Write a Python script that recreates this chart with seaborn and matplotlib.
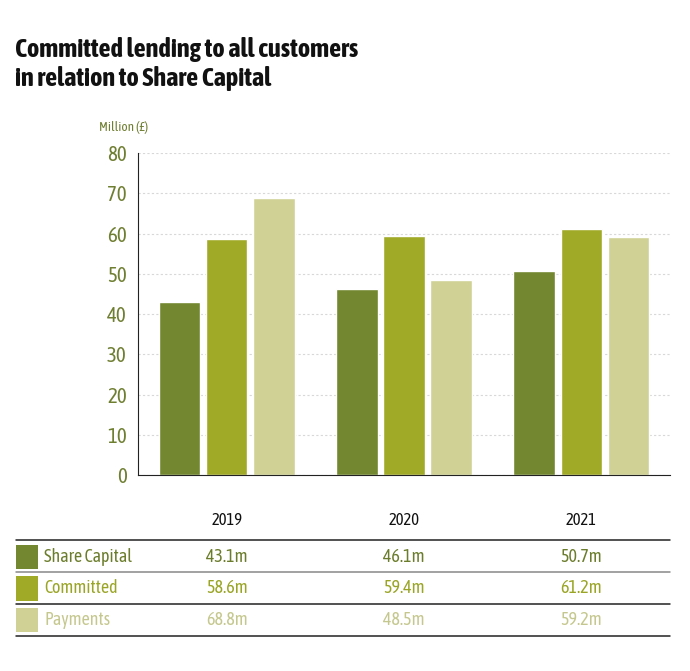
import pandas as pd
import numpy as np
import matplotlib
matplotlib.use("Agg")
import matplotlib.pyplot as plt
import matplotlib.transforms as mtransforms
from matplotlib import font_manager
from matplotlib.lines import Line2D
from matplotlib.patches import Rectangle
import seaborn as sns

#DATA
years = ["2019", "2020", "2021"]
series = ["Share Capital", "Committed", "Payments"]
share_capital = [43.1, 46.1, 50.7]
committed = [58.6, 59.4, 61.2]
payments = [68.8, 48.5, 59.2]
colors = {"Share Capital": "#72872f", "Committed": "#a0aa27", "Payments": "#d0d295"}
text_colors = {"Share Capital": "#6b7d2c", "Committed": "#9aa526", "Payments": "#c5c88e"}
y_ticks = [0, 10, 20, 30, 40, 50, 60, 70, 80]

df = pd.DataFrame({
    "Year": years * 3,
    "Series": [s for s in series for _ in years],
    "Value": share_capital + committed + payments,
})

#Pick a narrow font if one is installed, preferring one with a bold face
fonts = font_manager.fontManager.ttflist
narrow = [f for f in fonts if "Condensed" in f.name or "Narrow" in f.name]
bold_narrow = [f.name for f in narrow if f.weight in ("bold", 700, 600, "semibold", "demibold")]
base_font = narrow[0].name if narrow else "Roboto"
if bold_narrow:
    base_font = bold_narrow[0]
title_font = bold_narrow[0] if bold_narrow else base_font

sns.set_style("white")
plt.rcParams["font.family"] = [base_font, "DejaVu Sans"]

fig = plt.figure(figsize=(6.9, 6.71), dpi=100)
ax = fig.add_axes([0.2, 0.292, 0.771, 0.48])

sns.barplot(data=df, x="Year", y="Value", hue="Series", palette=colors,
            width=0.8, gap=0.12, saturation=1, legend=False, ax=ax)

ax.set_xlim(-0.5, 2.5)
ax.set_ylim(0, 80)
ax.set_yticks(y_ticks)
ax.set_yticklabels([str(t) for t in y_ticks], fontsize=15, color="#6f7f32")
ax.set_xticks([])
ax.set_xticks([0.5, 1.5, 2.5], minor=True)
ax.tick_params(axis="x", which="minor", direction="in", length=6, color="#333333")
ax.tick_params(axis="y", length=0, pad=8)
ax.set_xlabel("")
ax.set_ylabel("")
ax.yaxis.grid(True, linestyle=(0, (2, 2)), color="#d8d8d8", linewidth=0.8)
ax.set_axisbelow(True)
for side in ["top", "right"]:
    ax.spines[side].set_visible(False)
ax.spines["left"].set_color("#222222")
ax.spines["bottom"].set_color("#222222")

#Titles
fig.text(0.022, 0.945, "Committed lending to all customers\nin relation to Share Capital",
         fontsize=19, fontweight="bold", family=[title_font, "DejaVu Sans"],
         color="#111111", va="top", linespacing=1.2)
fig.text(0.143, 0.81, "Million (£)", fontsize=9.5, color="#6f7f32", va="center")

#Table below chart
trans = mtransforms.blended_transform_factory(ax.transData, fig.transFigure)
for i, y in enumerate(years):
    fig.text(i, 0.224, y, transform=trans, ha="center", va="center",
             fontsize=12, color="#111111")

row_y = [0.17, 0.123, 0.076]
line_y = [0.195, 0.147, 0.1, 0.052]
line_colors = ["#222222", "#888888", "#222222", "#222222"]
for ly, lc in zip(line_y, line_colors):
    fig.add_artist(Line2D([0.023, 0.971], [ly, ly], color=lc, linewidth=1.1))

values = {"Share Capital": share_capital, "Committed": committed, "Payments": payments}
for s, ry in zip(series, row_y):
    fig.add_artist(Rectangle((0.023, ry - 0.018), 0.032, 0.036, color=colors[s], linewidth=0))
    fig.text(0.064, ry, s, fontsize=13, color=text_colors[s], va="center")
    for i, v in enumerate(values[s]):
        fig.text(i, ry, f"{v}m", transform=trans, ha="center", va="center",
                 fontsize=13, color=text_colors[s])

fig.savefig("out.png", dpi=100)
